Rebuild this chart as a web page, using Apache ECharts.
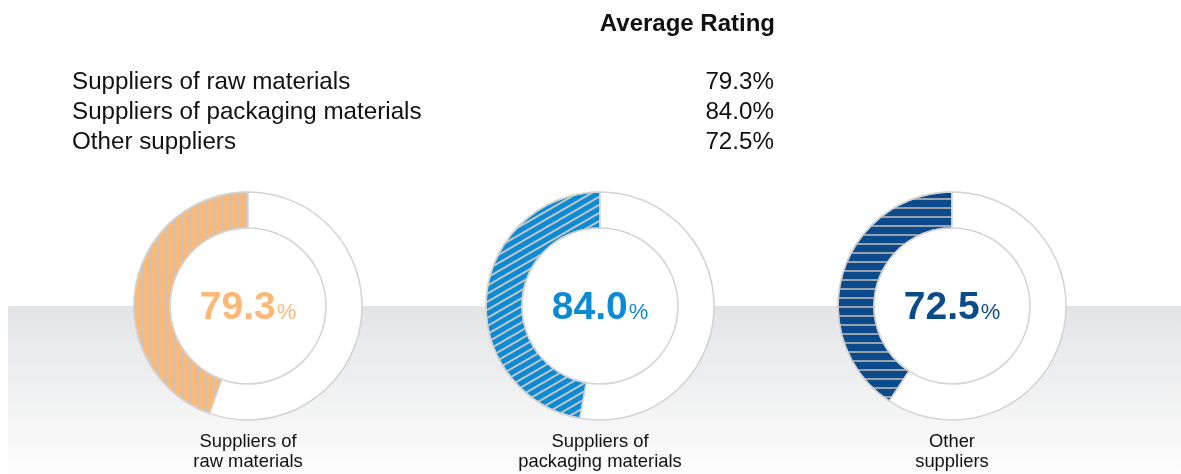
<!DOCTYPE html>
<html>
<head>
<meta charset="utf-8">
<script src="https://cdn.jsdelivr.net/npm/echarts@6/dist/echarts.min.js"></script>
<style>
  html, body { margin: 0; padding: 0; background: #fff; }
  #main { width: 1181px; height: 474px; }
</style>
</head>
<body>
<div id="main"></div>
<script>
// supplier groups and their average ratings
var categories = ['Suppliers of raw materials', 'Suppliers of packaging materials', 'Other suppliers'];
var ringLabels = ['Suppliers of\nraw materials', 'Suppliers of\npackaging materials', 'Other\nsuppliers'];
var ratings = [79.3, 84.0, 72.5];
var colors = ['#fcb874', '#0a8bd3', '#0b4b8c'];
// the full ring in the original artwork stands for about 178 %
var ringScale = 178;

var font = 'Liberation Sans, Arial, Helvetica, sans-serif';
var centersX = [248, 600, 952];
var stripe = '#c4c4c4';
var decals = [
  { symbol: 'rect', symbolSize: 1, color: stripe, dashArrayX: [1, 0], dashArrayY: [2, 5.3], rotation: Math.PI / 2 },
  { symbol: 'rect', symbolSize: 1, color: stripe, dashArrayX: [1, 0], dashArrayY: [1.5, 4.7], rotation: -Math.PI / 6 },
  { symbol: 'rect', symbolSize: 1, color: '#9aa3ad', dashArrayX: [1, 0], dashArrayY: [1.3, 6.3], rotation: 0 }
];

var chart = echarts.init(document.getElementById('main'));

var series = [];
var graphics = [{
  type: 'rect',
  z: -10,
  shape: { x: 8, y: 306, width: 1173, height: 168 },
  style: {
    fill: new echarts.graphic.LinearGradient(0, 0, 0, 1, [
      { offset: 0, color: '#e3e4e6' },
      { offset: 1, color: '#fdfdfd' }
    ])
  },
  silent: true
}];

// header table
graphics.push({
  type: 'text', x: 775, y: 24,
  style: { text: 'Average Rating', font: 'bold 24px ' + font, fill: '#111', align: 'right', verticalAlign: 'middle' }
});
categories.forEach(function (name, i) {
  graphics.push({
    type: 'text', x: 72, y: 82 + i * 30,
    style: { text: name, font: '24.2px ' + font, fill: '#111', align: 'left', verticalAlign: 'middle' }
  });
  graphics.push({
    type: 'text', x: 774, y: 82 + i * 30,
    style: { text: ratings[i].toFixed(1) + '%', font: '24.2px ' + font, fill: '#111', align: 'right', verticalAlign: 'middle' }
  });
});

ratings.forEach(function (v, i) {
  // white hole
  series.push({
    type: 'pie',
    silent: true,
    center: [centersX[i], 306],
    radius: [0, 78],
    label: { show: false },
    labelLine: { show: false },
    itemStyle: { color: '#fff', borderWidth: 0 },
    data: [{ value: 1, name: 'hole' }],
    z: 1
  });
  series.push({
    type: 'pie',
    silent: true,
    center: [centersX[i], 306],
    radius: [78, 114],
    startAngle: 90,
    clockwise: false,
    labelLine: { show: false },
    itemStyle: { borderColor: '#d3d3d3', borderWidth: 1.5 },
    data: [
      {
        value: v,
        name: categories[i],
        itemStyle: { color: colors[i], decal: decals[i] },
        label: {
          show: true,
          position: 'center',
          formatter: '{v|' + v.toFixed(1) + '}{p|%}',
          rich: {
            v: { fontSize: 39, fontWeight: 'bold', color: colors[i], fontFamily: font, lineHeight: 44, verticalAlign: 'bottom' },
            p: { fontSize: 22, color: colors[i], fontFamily: font, lineHeight: 44, verticalAlign: 'bottom', padding: [0, 0, 4.5, 1] }
          }
        }
      },
      {
        value: ringScale - v,
        name: 'rest',
        itemStyle: { color: '#fff' },
        label: { show: false }
      }
    ],
    z: 2
  });
  graphics.push({
    type: 'text', x: centersX[i], y: 432,
    style: { text: ringLabels[i], font: '18.4px ' + font, fill: '#111', align: 'center', verticalAlign: 'top', lineHeight: 20 }
  });
});

chart.setOption({
  animation: false,
  backgroundColor: '#fff',
  graphic: graphics,
  series: series
});
</script>
</body>
</html>
